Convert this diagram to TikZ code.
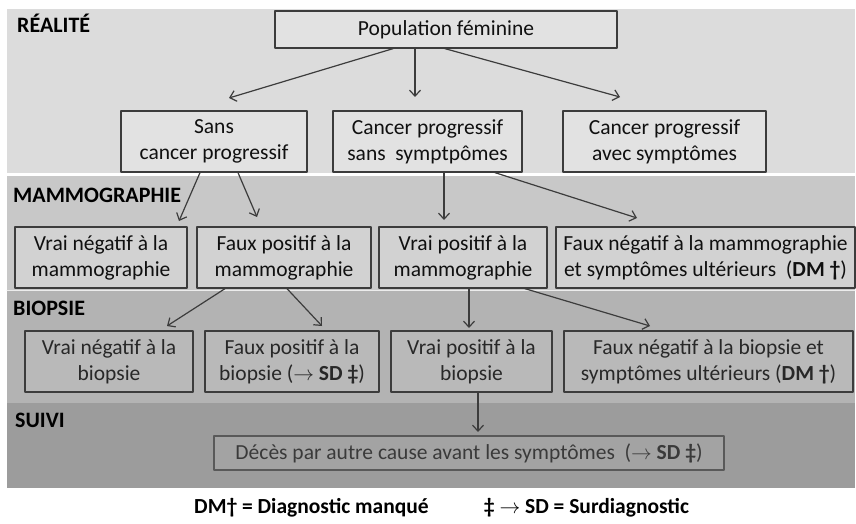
\documentclass[tikz,border=0pt]{standalone}
\usepackage{fontspec}
\setmainfont{Carlito}
\usetikzlibrary{arrows.meta}
\definecolor{bandA}{HTML}{DCDCDC}
\definecolor{bandB}{HTML}{C8C8C8}
\definecolor{bandC}{HTML}{B3B3B3}
\definecolor{bandD}{HTML}{9C9C9C}
\definecolor{boxA}{HTML}{E2E2E2}
\definecolor{boxB}{HTML}{D2D2D2}
\definecolor{boxC}{HTML}{B9B9B9}
\definecolor{boxD}{HTML}{A3A3A3}
\definecolor{trait}{HTML}{3C3C3C}
\definecolor{texteA}{HTML}{101010}
\definecolor{texteD}{HTML}{3A3A3A}
\begin{document}
\begin{tikzpicture}[x=1pt, y=-1pt, line join=round, line cap=round,
	font=\fontsize{21.5}{26}\selectfont, >={Straight Barb[length=6pt,width=11pt]},
	boite/.style={draw=trait, line width=1.3pt, align=center, inner sep=0pt, minimum height=61pt, text=texteA},
	fleche/.style={->, draw=trait, line width=1.2pt},
	titre/.style={font=\fontsize{22}{26}\selectfont\bfseries, anchor=base west, inner sep=0pt, text=black}]
	\useasboundingbox (0,0) rectangle (856,524);
	\foreach \ya/\yb/\c in {9/173/bandA,176/290/bandB,291/403/bandC,403/488/bandD}{
		\fill[\c] (7,\ya) rectangle (855,\yb);
	}
	\draw[white!85!gray, line width=1pt] (7,290.5)--(855,290.5);
	% bandeaux
	\node[titre] (realite) at (17,33) {RÉALITÉ};
	\node[titre] (mammo) at (13,202) {MAMMOGRAPHIE};
	\node[titre] (biopsie) at (13,315) {BIOPSIE};
	\node[titre] (suivi) at (15,427) {SUIVI};
	% realite
	\node[boite, fill=boxA, minimum width=342pt, minimum height=37pt] (pop) at (446,29.5) {Population féminine};
	\node[boite, fill=boxA, minimum width=186pt] (sans) at (214,141.5) {Sans\\cancer progressif};
	\node[boite, fill=boxA, minimum width=189pt] (csans) at (427.5,141.5) {Cancer progressif\\sans\ \ symptpômes};
	\node[boite, fill=boxA, minimum width=203pt] (cavec) at (664.5,141.5) {Cancer progressif\\avec symptômes};
	% mammographie
	\node[boite, fill=boxB, minimum width=172pt] (vnm) at (101,257.5) {Vrai négatif à la\\mammographie};
	\node[boite, fill=boxB, minimum width=174pt] (fpm) at (284,257.5) {Faux positif à la\\mammographie};
	\node[boite, fill=boxB, minimum width=168pt] (vpm) at (463,257.5) {Vrai positif à la\\mammographie};
	\node[boite, fill=boxB, minimum width=299pt] (fnm) at (705.5,257.5) {Faux négatif à la mammographie\\et symptômes ultérieurs\ \ (\textbf{DM †})};
	% biopsie
	\node[boite, fill=boxC, minimum width=168pt, text=texteA!90!white] (vnb) at (109,361.5) {Vrai négatif à la\\biopsie};
	\node[boite, fill=boxC, minimum width=174pt, text=texteA!90!white] (fpb) at (292,361.5) {Faux positif à la\\biopsie ($\rightarrow$ \textbf{SD ‡})};
	\node[boite, fill=boxC, minimum width=161pt, text=texteA!90!white] (vpb) at (471.5,361.5) {Vrai positif à la\\biopsie};
	\node[boite, fill=boxC, minimum width=289pt, text=texteA!90!white] (fnb) at (708.5,361.5) {Faux négatif à la biopsie et\\symptômes ultérieurs (\textbf{DM †})};
	% suivi
	\node[boite, draw=trait!85!white, fill=boxD, minimum width=510pt, minimum height=34pt, text=texteD] (deces) at (469,453) {Décès par autre cause avant les symptômes\ \ ($\rightarrow$ \textbf{SD ‡})};
	% fleches
	\path (229,98) coordinate (p1) (415,97) coordinate (p2) (620,97) coordinate (p3)
	(179,221) coordinate (m1) (257,217) coordinate (m2) (444,220) coordinate (m3) (637,218) coordinate (m4)
	(167,326) coordinate (b1) (322,326) coordinate (b2) (469,328) coordinate (b3) (650,326) coordinate (b4)
	(478,432) coordinate (s1);
	\draw[fleche] ([xshift=-53pt]pop.south)--(p1);
	\draw[fleche] ([xshift=-31pt]pop.south)--(p2);
	\draw[fleche] ([xshift=-1pt]pop.south)--(p3);
	\draw[fleche] ([xshift=-14pt]sans.south)--(m1);
	\draw[fleche] ([xshift=24pt]sans.south)--(m2);
	\draw[fleche] ([xshift=16.5pt]csans.south)--(m3);
	\draw[fleche] ([xshift=67.5pt]csans.south)--(m4);
	\draw[fleche] ([xshift=-59pt]fpm.south)--(b1);
	\draw[fleche] ([xshift=3pt]fpm.south)--(b2);
	\draw[fleche] ([xshift=6pt]vpm.south)--(b3);
	\draw[fleche] ([xshift=62pt]vpm.south)--(b4);
	\draw[fleche] ([xshift=6.5pt]vpb.south)--(s1);
	% legende
	\node[font=\fontsize{21.5}{26}\selectfont\bfseries, anchor=base, inner sep=0pt] (dm) at (311.5,513) {DM† = Diagnostic manqué};
	\node[font=\fontsize{21.5}{26}\selectfont\bfseries, anchor=base, inner sep=0pt] (sd) at (586.5,513) {‡ $\rightarrow$ SD = Surdiagnostic};
\end{tikzpicture}
\end{document}
